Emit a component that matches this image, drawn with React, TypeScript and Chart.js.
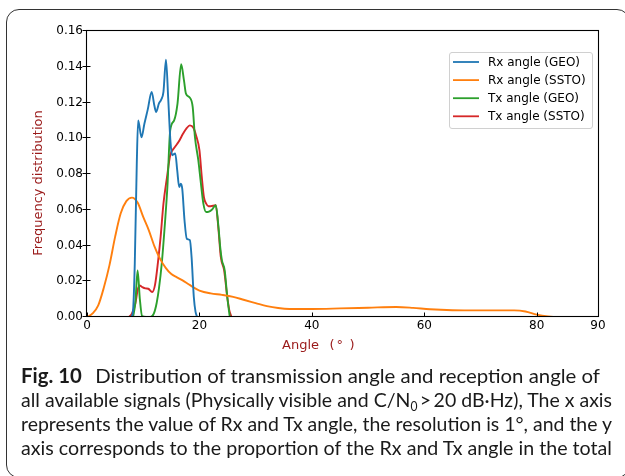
import React, { useEffect, useLayoutEffect, useRef } from "react";
import { Chart, registerables } from "chart.js";

Chart.register(...registerables);

// ---------- data ----------
const seriesLabels = ["Rx angle (GEO)", "Rx angle (SSTO)", "Tx angle (GEO)", "Tx angle (SSTO)"];
const seriesColors = ["#1f77b4", "#ff7f0e", "#2ca02c", "#d62728"];

const rxGeoAngle = [7.9, 8.2, 8.5, 8.85, 9.1, 9.7, 10.2, 10.8, 11.5, 12.0, 12.3, 12.8, 13.2, 13.6, 14.05, 14.45, 14.85, 15.15, 15.7, 16.05, 16.4, 16.7, 16.95, 17.35, 17.75, 18.3, 18.6, 19.0, 19.3, 19.6];
const rxGeoFreq = [0, 0.004, 0.03, 0.085, 0.11, 0.1005, 0.108, 0.116, 0.1259, 0.118, 0.1147, 0.1195, 0.1216, 0.126, 0.144, 0.122, 0.098, 0.0905, 0.0915, 0.082, 0.0727, 0.0746, 0.0715, 0.054, 0.0438, 0.043, 0.0336, 0.0112, 0.003, 0];

const rxSstoAngle = [0, 1, 2, 3, 4, 5, 6, 7, 8, 9, 10, 11, 12, 13, 14, 15, 16, 17, 18, 19, 20, 22, 24, 26, 28, 30, 32, 34, 36, 40, 45, 50, 55, 58, 61, 65, 70, 76, 78, 80, 82, 84, 86.5];
const rxSstoFreq = [0, 0.002, 0.0065, 0.0165, 0.029, 0.0448, 0.058, 0.0648, 0.0668, 0.064, 0.056, 0.0485, 0.0395, 0.0325, 0.0275, 0.024, 0.0222, 0.0205, 0.0185, 0.0165, 0.0148, 0.0132, 0.0124, 0.0113, 0.0095, 0.0078, 0.0061, 0.005, 0.0045, 0.0045, 0.0048, 0.0052, 0.0056, 0.0051, 0.0043, 0.0038, 0.0037, 0.0037, 0.0031, 0.0013, 0.0003, 0, 0];

const txGeoAngle = [8.2, 8.6, 9.0, 9.4, 9.8, 10.5, 11.3, 11.9, 12.4, 12.8, 13.3, 13.9, 14.3, 14.8, 15.5, 16.1, 16.75, 17.25, 17.6, 18.3, 18.8, 19.2, 19.8, 20.2, 20.7, 21.2, 21.7, 22.2, 22.9, 23.4, 23.7, 24.0, 24.5, 24.95, 25.4];
const txGeoFreq = [0, 0.008, 0.026, 0.01, 0.0005, 0, 0, 0.002, 0.008, 0.016, 0.03, 0.054, 0.0727, 0.1044, 0.11, 0.1194, 0.1414, 0.1324, 0.125, 0.1227, 0.1175, 0.1007, 0.0877, 0.0765, 0.0634, 0.0587, 0.059, 0.06, 0.0625, 0.05, 0.039, 0.0317, 0.026, 0.0112, 0];

const txSstoAngle = [7.5, 8.0, 8.6, 9.0, 9.35, 9.8, 10.4, 10.9, 11.6, 12.1, 12.6, 13.1, 13.6, 14.2, 14.8, 15.5, 16.3, 17.1, 17.7, 18.3, 18.9, 19.4, 20.0, 20.4, 20.8, 21.2, 21.6, 22.0, 22.9, 23.4, 23.8, 24.4, 24.95, 25.3, 25.7];
const txSstoFreq = [0, 0.002, 0.0075, 0.015, 0.0177, 0.0168, 0.016, 0.0158, 0.014, 0.018, 0.03, 0.045, 0.0634, 0.0775, 0.0905, 0.0945, 0.098, 0.1026, 0.1055, 0.1072, 0.106, 0.1016, 0.0933, 0.079, 0.067, 0.0634, 0.062, 0.062, 0.0625, 0.0485, 0.0336, 0.026, 0.0112, 0.004, 0];

const xTickValues = [0, 20, 40, 60, 80, 90.9];
const xTickLabels = ["0", "20", "40", "60", "80", "90"];
const yTickValues = [0, 0.02, 0.04, 0.06, 0.08, 0.1, 0.12, 0.14, 0.16];
const yTickLabels = ["0.00", "0.02", "0.04", "0.06", "0.08", "0.10", "0.12", "0.14", "0.16"];
const xMin = 0;
const xMax = 90.9;
const yMin = 0;
const yMax = 0.16;

const xTitleParts = ["Angle", "（", "°", "）"];
const yTitle = "Frequency distribution";

// ---------- styling ----------
const TICK_FONT = '12px "DejaVu Sans"';
const TITLE_FONT = '13px "DejaVu Sans"';
const TITLE_COLOR = "#9a1a1a";

const toPoints = (xs: number[], ys: number[]) => xs.map((x, i) => ({ x, y: ys[i] }));

const decorPlugin = {
  id: "decor",
  afterDraw(chart: any) {
    const { ctx, chartArea: a, scales } = chart;
    ctx.save();
    // frame
    ctx.strokeStyle = "#000";
    ctx.lineWidth = 1.1;
    ctx.strokeRect(a.left - 0.5, a.top - 0.5, a.right - a.left + 1, a.bottom - a.top);
    // ticks
    ctx.lineWidth = 1;
    ctx.beginPath();
    yTickValues.forEach((v) => {
      const py = Math.round(scales.y.getPixelForValue(v)) - 0.5;
      ctx.moveTo(a.left - 4.5, py);
      ctx.lineTo(a.left + 3.5, py);
    });
    xTickValues.forEach((v) => {
      if (v > 90) return;
      const px = Math.round(scales.x.getPixelForValue(v)) + 0.5;
      ctx.moveTo(px, a.bottom - 0.5);
      ctx.lineTo(px, a.bottom - 4.5);
    });
    ctx.stroke();

    // axis titles
    ctx.fillStyle = TITLE_COLOR;
    ctx.font = TITLE_FONT;
    ctx.textAlign = "left";
    ctx.textBaseline = "middle";
    const partX = [282, 329.5, 336.5, 349.5];
    xTitleParts.forEach((p, i) => {
      const s = p === "（" ? "(" : p === "）" ? ")" : p;
      ctx.fillText(s, partX[i], 346);
    });
    ctx.save();
    ctx.translate(39, 183);
    ctx.rotate(-Math.PI / 2);
    ctx.textAlign = "center";
    ctx.fillText(yTitle, 0, 0);
    ctx.restore();

    // legend
    const lx = 449, ly = 52, lw = 143, lh = 76;
    ctx.beginPath();
    const r = 2.5;
    ctx.moveTo(lx + r, ly + 0.5);
    ctx.arcTo(lx + lw + 0.5, ly + 0.5, lx + lw + 0.5, ly + lh, r);
    ctx.arcTo(lx + lw + 0.5, ly + lh + 0.5, lx, ly + lh + 0.5, r);
    ctx.arcTo(lx + 0.5, ly + lh + 0.5, lx + 0.5, ly, r);
    ctx.arcTo(lx + 0.5, ly + 0.5, lx + lw, ly + 0.5, r);
    ctx.closePath();
    ctx.fillStyle = "rgba(255,255,255,0.85)";
    ctx.fill();
    ctx.strokeStyle = "#d0d0d0";
    ctx.lineWidth = 1;
    ctx.stroke();
    ctx.font = TICK_FONT;
    ctx.textAlign = "left";
    ctx.textBaseline = "middle";
    chart.data.datasets.forEach((ds: any, i: number) => {
      const y = 62 + i * 18.1;
      ctx.strokeStyle = ds.borderColor;
      ctx.lineWidth = 1.8;
      ctx.beginPath();
      ctx.moveTo(453, y);
      ctx.lineTo(479, y);
      ctx.stroke();
      ctx.fillStyle = "#000";
      ctx.fillText(ds.label, 488, y + 0.5);
    });
    ctx.restore();
  },
};

function ChartCanvas() {
  const ref = useRef<HTMLCanvasElement | null>(null);
  useEffect(() => {
    if (!ref.current) return;
    const chart = new Chart(ref.current, {
      type: "line",
      data: {
        datasets: [
          { label: seriesLabels[0], data: toPoints(rxGeoAngle, rxGeoFreq), borderColor: seriesColors[0] },
          { label: seriesLabels[1], data: toPoints(rxSstoAngle, rxSstoFreq), borderColor: seriesColors[1] },
          { label: seriesLabels[2], data: toPoints(txGeoAngle, txGeoFreq), borderColor: seriesColors[2] },
          { label: seriesLabels[3], data: toPoints(txSstoAngle, txSstoFreq), borderColor: seriesColors[3] },
        ].map((d) => ({
          ...d,
          borderWidth: 1.9,
          pointRadius: 0,
          fill: false,
          cubicInterpolationMode: "monotone" as const,
        })),
      },
      options: {
        animation: false,
        responsive: false,
        devicePixelRatio: 1,
        layout: { padding: { left: 0, top: 31, right: 27, bottom: 0 } },
        plugins: { legend: { display: false }, tooltip: { enabled: false } },
        scales: {
          x: {
            type: "linear",
            min: xMin,
            max: xMax,
            afterBuildTicks: (s: any) => {
              s.ticks = xTickValues.map((v) => ({ value: v }));
            },
            afterFit: (s: any) => {
              s.height = 159;
            },
            ticks: {
              callback: (_v: any, i: number) => xTickLabels[i],
              font: { family: "DejaVu Sans", size: 12 },
              color: "#000",
              padding: 2,
              maxRotation: 0,
              autoSkip: false,
            },
            grid: { display: false, drawTicks: false },
            border: { display: false },
          },
          y: {
            type: "linear",
            min: yMin,
            max: yMax,
            afterBuildTicks: (s: any) => {
              s.ticks = yTickValues.map((v) => ({ value: v }));
            },
            afterFit: (s: any) => {
              s.width = 87;
            },
            ticks: {
              callback: (_v: any, i: number) => yTickLabels[i],
              font: { family: "DejaVu Sans", size: 12 },
              color: "#000",
              padding: 4,
              autoSkip: false,
            },
            grid: { display: false, drawTicks: false },
            border: { display: false },
          },
        },
      } as any,
      plugins: [decorPlugin],
    });
    return () => chart.destroy();
  }, []);
  return <canvas ref={ref} width={625} height={476} style={{ position: "absolute", left: 0, top: 0, width: 625, height: 476 }} />;
}

const captionTargets = [579, 591, 591, 591];
const captionLefts = [21, 20.5, 20.5, 20.5];
const captionBaselines = [382.7, 406.7, 430.7, 454.5];

function Caption() {
  const refs = useRef<(HTMLSpanElement | null)[]>([]);
  useLayoutEffect(() => {
    refs.current.forEach((el, i) => {
      if (!el) return;
      el.style.transform = "none";
      const w = el.getBoundingClientRect().width;
      if (w > 0) el.style.transform = `scaleX(${captionTargets[i] / w})`;
    });
  }, []);
  const fs = 20;
  const lineStyle = (i: number): React.CSSProperties => ({
    position: "absolute",
    left: captionLefts[i],
    top: captionBaselines[i] - fs * 1.0,
    fontFamily: 'Lato, sans-serif',
    fontSize: fs,
    lineHeight: `${fs * 1.2}px`,
    whiteSpace: "nowrap",
    transformOrigin: "0 0",
    color: "#1a1a1a",
  });
  const lines = [
    <>
      <b>Fig. 10</b>
      <span style={{ marginLeft: 8 }}> Distribution of transmission angle and reception angle of</span>
    </>,
    <>
      all available signals (Physically visible and C/N
      <sub style={{ fontSize: "0.62em", lineHeight: 0, verticalAlign: "-0.3em" }}>0</sub>
      {"\u2009>\u200920 dB·Hz), The x axis"}
    </>,
    <>represents the value of Rx and Tx angle, the resolution is 1°, and the y</>,
    <>axis corresponds to the proportion of the Rx and Tx angle in the total</>,
  ];
  return (
    <>
      {lines.map((l, i) => (
        <span key={i} ref={(el) => { refs.current[i] = el; }} style={lineStyle(i)}>
          {l}
        </span>
      ))}
    </>
  );
}

export default function App() {
  return (
    <div style={{ position: "absolute", left: 0, top: 0, width: 625, height: 476, overflow: "hidden", background: "#fff" }}>
      <div
        style={{
          position: "absolute",
          left: 6,
          top: 9,
          width: 622,
          height: 467,
          border: "1px solid #333",
          borderRadius: 13,
        }}
      />
      <ChartCanvas />
      <Caption />
    </div>
  );
}
